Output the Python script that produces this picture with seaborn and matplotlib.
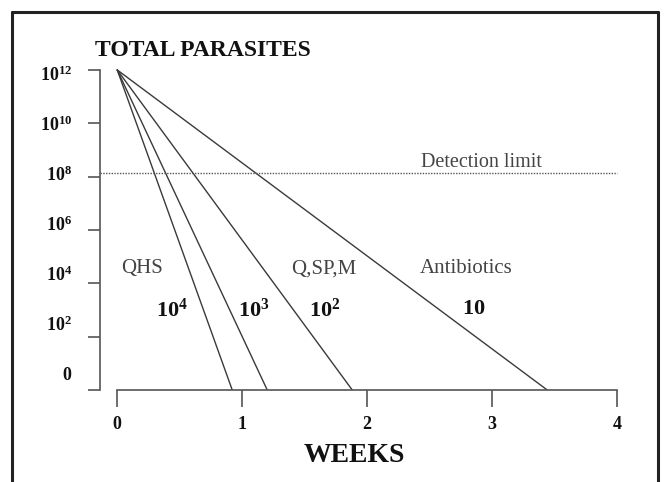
import numpy as np
import pandas as pd
import seaborn as sns
import matplotlib.pyplot as plt
from matplotlib.lines import Line2D

# values (log10 of total parasites vs weeks)
start_log = 12
weeks_to_clear = [0.92, 1.20, 1.88, 3.44]        # where each line reaches 0
reduction_labels = ["10^4", "10^3", "10^2", "10"]
drug_names = ["QHS", "Q,SP,M", "Antibiotics"]
detection_log = 8.15
x_ticks = [0, 1, 2, 3, 4]
y_ticks = [0, 2, 4, 6, 8, 10, 12]
y_tick_labels = ["0", "10^2", "10^4", "10^6", "10^8", "10^10", "10^12"]

rows = []
for lab, end in zip(reduction_labels, weeks_to_clear):
    rows.append({"ratio": lab, "week": 0, "log_parasites": start_log})
    rows.append({"ratio": lab, "week": end, "log_parasites": 0})
df = pd.DataFrame(rows)

sns.set_theme(style="ticks")
plt.rcParams["font.family"] = ["Liberation Serif", "DejaVu Serif"]
plt.rcParams["mathtext.fontset"] = "custom"
plt.rcParams["mathtext.rm"] = "Liberation Serif"
plt.rcParams["mathtext.bf"] = "Liberation Serif:bold"

def bold_math(s):
    return r"$\mathbf{" + s.replace("^", "^{") + ("}" if "^" in s else "") + "}$"

fig = plt.figure(figsize=(6.64, 4.82), dpi=100)
ax = fig.add_axes([0.1506, 0.1909, 0.7846, 0.6695])

line_col = "#3a3a3a"
sns.lineplot(data=df, x="week", y="log_parasites", hue="ratio",
             palette=[line_col] * len(reduction_labels), legend=False,
             estimator=None, linewidth=1.0, ax=ax)

x_left = -0.138
ax.set_xlim(x_left, 4.03)
ax.set_ylim(0, 12.1)

# detection limit
ax.hlines(detection_log, x_left, 4.0, colors="#555555", linestyles=(0, (1, 1)), linewidth=1.0)
ax.text(2.43, detection_log + 0.2, "Detection limit", fontsize=14.5, color="#444444",
        ha="left", va="baseline")

# drug names and reduction ratios
for name, xpos in zip(drug_names, [0.20, 1.656, 2.79]):
    ax.text(xpos, 4.54, name, fontsize=15, color="#444444", ha="center", va="center")
for lab, xpos in zip(reduction_labels, [0.44, 1.09, 1.656, 2.85]):
    ax.text(xpos, 3.0, bold_math(lab), fontsize=16, color="#111111", ha="center", va="center")

# axes styling
for s in ["top", "right"]:
    ax.spines[s].set_visible(False)
ax.spines["left"].set_bounds(0, 12)
ax.spines["bottom"].set_bounds(0, 4)
for s in ["left", "bottom"]:
    ax.spines[s].set_color("#555555")
    ax.spines[s].set_linewidth(1.2)

ax.set_xticks(x_ticks)
ax.set_xticklabels([str(t) for t in x_ticks], fontsize=13, fontweight="bold", color="#111111")
ax.tick_params(axis="x", length=12, width=1.2, color="#555555", pad=7)

# y ticks: marks at the values, labels drawn slightly off as in the original
ax.set_yticks(y_ticks)
ax.set_yticklabels([])
ax.tick_params(axis="y", which="major", length=8.6, width=1.2, color="#555555")
label_pos = np.linspace(0.62, 11.88, len(y_ticks))
ax.set_yticks(label_pos, minor=True)
ax.set_yticklabels([bold_math(t) for t in y_tick_labels], minor=True, fontsize=13, color="#111111")
ax.tick_params(axis="y", which="minor", length=0, pad=20)

ax.set_ylabel("")
ax.set_xlabel("WEEKS", fontsize=20, fontweight="bold", color="#111111", va="top")
ax.xaxis.set_label_coords(0.4875, -0.164)

fig.text(95 / 664, 1 - 50 / 482, "TOTAL PARASITES", fontsize=17, fontweight="bold",
         color="#111111", ha="left", va="center")

# frame around the picture (open at the bottom)
frame = dict(color="#222222", linewidth=2.2, transform=fig.transFigure)
fig.add_artist(Line2D([12 / 664, 12 / 664], [0, 1 - 12 / 482], **frame))
fig.add_artist(Line2D([12 / 664, 658 / 664], [1 - 12 / 482, 1 - 12 / 482], **frame))
fig.add_artist(Line2D([658 / 664, 658 / 664], [0, 1 - 12 / 482], **frame))

fig.savefig("out.png", dpi=100)
